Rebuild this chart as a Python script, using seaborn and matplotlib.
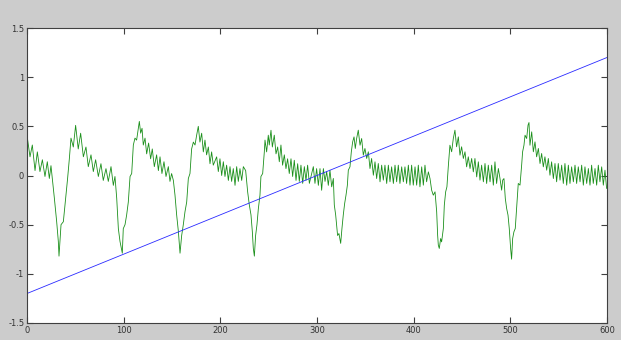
import numpy as np
import pandas as pd
import matplotlib
matplotlib.use("Agg")
import matplotlib.pyplot as plt
import seaborn as sns

# green signal (sample index, value)
sig_x = [0, 3.1, 5.5, 8.3, 10.7, 13.4, 15.9, 18.6, 21.0, 23.1, 24.8, 28.3, 30.7, 32.4, 33.1,
         35.2, 37.6, 40.0, 42.0, 43.8, 45.5, 47.9, 50.3, 53.0, 55.5, 58.3, 61.0, 63.4, 66.2,
         68.6, 71.0, 73.8, 76.5, 78.9, 81.7, 84.1, 86.9, 89.3, 91.0, 92.8, 94.5, 96.2, 98.6,
         99.6, 101.4, 103.1, 104.8, 106.6, 108.3, 110.0, 111.7, 113.4, 115.2, 116.2, 117.6,
         119.0, 120.3, 122.1, 123.8, 125.8, 127.9, 129.6, 131.7, 134.1, 135.9, 137.6, 139.6,
         141.7, 143.8, 146.2, 147.9, 149.6, 151.4, 153.1, 154.8, 156.6, 158.3, 160.0, 161.7,
         163.4, 165.2, 166.9, 168.6, 170.3, 172.1, 173.8, 175.5, 177.2, 178.9, 180.7, 182.4,
         184.1, 185.8, 187.6, 189.3, 191.0, 192.7,
         196.2, 197.9, 199.6, 201.4, 203.1, 204.8, 206.5, 208.3, 210.0, 211.7, 213.4, 215.2,
         216.9, 218.6, 220.3, 222.1, 223.8, 226.2, 228.3, 230.0, 231.7, 233.1, 234.1, 235.2,
         236.5, 237.9, 239.3, 241.0, 242.0, 243.8, 245.5, 246.2, 247.9, 249.6, 250.6, 252.4,
         253.8, 255.8, 257.6, 259.3, 261.0, 262.7, 264.4, 266.2, 267.9, 269.6, 271.3, 273.1,
         274.8, 276.5, 278.3, 280.0, 281.7, 283.4, 285.2, 286.9, 288.6, 290.3, 292.1,
         296.2, 297.9, 299.6, 301.4, 303.1, 304.8, 306.6, 308.3, 310.0, 311.7, 313.4, 315.2,
         316.9, 317.9, 319.3, 320.3, 321.3, 322.7, 324.5, 325.8, 327.2, 328.6, 330.0, 331.4,
         332.4, 334.1, 335.5, 336.9, 338.3, 339.6, 341.0, 342.7, 344.5, 346.2, 347.9, 349.6,
         351.4, 353.1, 354.8, 356.5, 358.3, 360.0, 361.7, 363.4, 365.2, 366.9, 368.6, 370.3,
         372.1, 373.8, 375.5, 377.2, 379.0, 380.7, 382.4, 384.1, 385.8, 387.6, 389.3,
         391.0, 392.7, 394.5, 396.2, 397.9, 399.6, 401.4, 403.1, 404.8, 406.5, 408.3, 410.0,
         411.7, 413.4, 415.2, 416.9, 418.6, 420.3, 422.1, 423.8, 424.8, 425.5, 426.5, 427.9,
         428.9, 430.7, 431.7, 433.1, 434.4, 435.8, 437.5, 439.3, 441.0, 442.7, 444.4, 446.2,
         447.9, 449.6, 451.4, 453.1, 454.8, 456.5, 458.3, 460.0, 461.7, 463.4, 465.2, 466.9,
         468.6, 470.3, 472.1, 473.8, 475.5, 477.2, 479.0, 480.7, 482.4, 484.1, 485.8, 487.6,
         489.3, 491.0, 492.1, 493.4, 494.8, 496.2, 497.6, 498.9, 500.3, 501.3, 502.4, 503.7,
         505.1, 506.5, 508.2, 510.0, 511.7, 512.7, 514.1, 515.2, 516.9, 518.3, 519.3, 520.3,
         522.1, 523.8, 525.5, 527.2, 529.0, 530.7, 532.4, 534.1, 535.8, 537.6, 539.3, 541.0,
         542.7, 544.5, 546.2, 547.9, 549.6, 551.4, 553.1, 554.8, 556.5, 558.3, 560.0, 561.7,
         563.4, 565.2, 566.9, 568.6, 570.3, 572.1, 573.8, 575.5, 577.2, 579.0, 580.7, 582.4,
         584.1, 585.8, 587.6, 589.3, 591.0, 592.7, 594.5, 596.2, 597.9, 599.6]

sig_y = [0.41, 0.19, 0.31, 0.05, 0.24, 0.04, 0.16, -0.01, 0.14, -0.03, 0.10, -0.23, -0.47, -0.67, -0.82,
         -0.50, -0.47, -0.23, -0.03, 0.17, 0.38, 0.29, 0.51, 0.27, 0.43, 0.19, 0.29, 0.09, 0.21,
         0.04, 0.16, -0.01, 0.12, -0.05, 0.07, -0.06, 0.09, -0.10, -0.01, -0.23, -0.54, -0.67, -0.79,
         -0.54, -0.50, -0.40, -0.27, -0.01, 0.02, 0.31, 0.38, 0.36, 0.48, 0.55, 0.43,
         0.48, 0.31, 0.38, 0.22, 0.33, 0.17, 0.27, 0.09, 0.21, 0.05, 0.19, 0.02,
         0.14, -0.01, 0.09, -0.06, 0.02, -0.05, -0.20, -0.40, -0.57, -0.79, -0.61, -0.50,
         -0.37, -0.27, -0.03, 0.02, 0.27, 0.34, 0.31, 0.41, 0.50, 0.34, 0.43, 0.24,
         0.36, 0.21, 0.29, 0.12, 0.24, 0.105,
         0.19, 0.04, 0.17, 0.00, 0.14, -0.01, 0.105, -0.05, 0.09, -0.06, 0.07, -0.10,
         0.09, -0.06, 0.07, -0.05, 0.09, 0.05, -0.17, -0.30, -0.40, -0.57, -0.74, -0.82,
         -0.61, -0.50, -0.34, -0.20, -0.01, 0.02, 0.24, 0.36, 0.24, 0.41, 0.31, 0.46,
         0.29, 0.41, 0.22, 0.29, 0.14, 0.31, 0.105, 0.21, 0.07, 0.17, 0.02, 0.17,
         -0.01, 0.155, -0.05, 0.12, -0.06, 0.105, -0.08, 0.09, -0.05, 0.105, -0.08,
         0.09, -0.08, 0.07, -0.10, 0.07, -0.15, 0.07, -0.06, 0.04, -0.10, 0.054, -0.115,
         -0.03, -0.30, -0.40, -0.50, -0.61, -0.59, -0.69, -0.54, -0.40, -0.285, -0.20, -0.10,
         0.054, 0.088, 0.241, 0.342, 0.393, 0.275, 0.376, 0.461, 0.308, 0.376, 0.207, 0.275,
         0.173, 0.241, 0.071, 0.173, 0.003, 0.139, -0.031, 0.122, -0.064, 0.105, -0.047, 0.105,
         -0.081, 0.105, -0.064, 0.088, -0.081, 0.105, -0.064, 0.105, -0.081, 0.088, -0.064,
         0.088, -0.081, 0.105, -0.098, 0.105, -0.098, 0.088, -0.098, 0.105, -0.115, 0.088, -0.098,
         0.105, -0.064, 0.037, -0.031, -0.149, -0.200, -0.166, -0.369, -0.607, -0.708, -0.742, -0.641,
         -0.675, -0.539, -0.302, -0.166, -0.115, 0.088, 0.308, 0.241, 0.376, 0.461, 0.292, 0.393,
         0.207, 0.292, 0.173, 0.241, 0.088, 0.190, 0.071, 0.173, 0.037, 0.173, -0.014, 0.139,
         -0.047, 0.105, -0.064, 0.122, -0.081, 0.105, -0.064, 0.105, -0.098, 0.139, -0.081, 0.071,
         -0.03, -0.149, -0.047, -0.031, -0.234, -0.336, -0.403, -0.539, -0.742, -0.851, -0.641, -0.573,
         -0.539, -0.336, -0.081, -0.098, 0.105, 0.241, 0.308, 0.410, 0.376, 0.512, 0.539, 0.308,
         0.444, 0.241, 0.342, 0.190, 0.275, 0.122, 0.224, 0.088, 0.190, 0.054, 0.173, 0.003,
         0.139, -0.031, 0.122, -0.064, 0.122, -0.047, 0.105, -0.081, 0.122, -0.098, 0.105, -0.081,
         0.088, -0.064, 0.105, -0.081, 0.088, -0.064, 0.105, -0.098, 0.088, -0.081, 0.071, -0.098,
         0.105, -0.081, 0.071, -0.098, 0.105, -0.064, 0.088, -0.098, 0.054, -0.132]

# blue straight line
line_x = [0, 600]
line_y = [-1.2, 1.2]

x_ticks = [0, 100, 200, 300, 400, 500, 600]
y_ticks = [-1.5, -1, -0.5, 0, 0.5, 1, 1.5]

sns.set_style("ticks")
plt.rcParams['font.family'] = ['DejaVu Sans']

fig = plt.figure(figsize=(6.21, 3.40), dpi=100, facecolor="#cccccc")
ax = fig.add_axes([27 / 621, 1 - 323 / 340, 580 / 621, 295 / 340])
ax.set_facecolor("white")

sns.lineplot(x=sig_x, y=sig_y, ax=ax, color="#1a8f1a", linewidth=0.6, sort=False, estimator=None)
sns.lineplot(x=line_x, y=line_y, ax=ax, color="#2a2aff", linewidth=0.6, sort=False, estimator=None)

ax.set_xlim(0, 600)
ax.set_ylim(-1.5, 1.5)
ax.set_xticks(x_ticks)
ax.set_xticklabels([str(t) for t in x_ticks])
ax.set_yticks(y_ticks)
ax.set_yticklabels(["-1.5", "-1", "-0.5", "0", "0.5", "1", "1.5"])
ax.tick_params(direction="in", length=4, width=0.8, color="#404040", labelsize=6,
               labelcolor="#333333", top=True, right=True, pad=2)
for s in ax.spines.values():
    s.set_visible(True)
    s.set_color("#404040")
    s.set_linewidth(0.8)

fig.savefig("out.png", dpi=100, facecolor=fig.get_facecolor())
